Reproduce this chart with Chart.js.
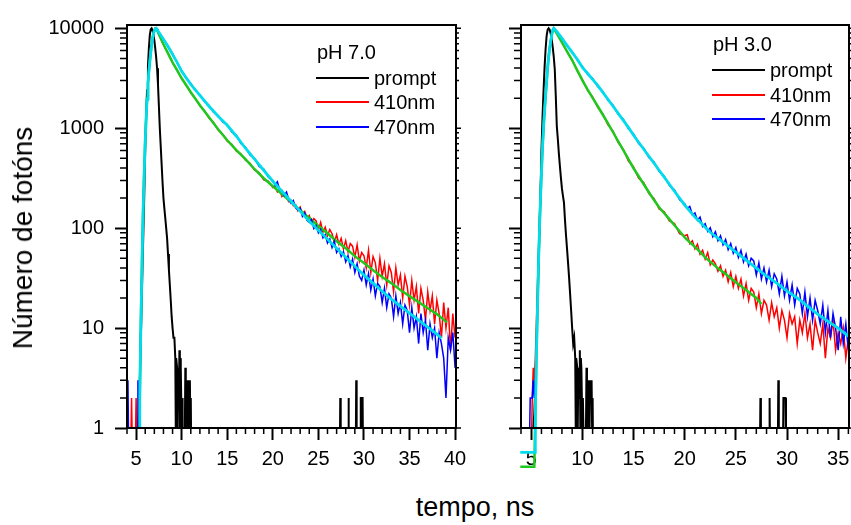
<!DOCTYPE html>
<html>
<head>
<meta charset="utf-8">
<script src="https://cdn.jsdelivr.net/npm/chart.js@4.4.1/dist/chart.umd.min.js"></script>
<style>
  body { margin: 0; background: #fff; overflow: hidden; }
  #wrap { position: relative; width: 851px; height: 525px; overflow: hidden; background: #fff; font-family: Arial, "Liberation Sans", sans-serif; }
  canvas { position: absolute; top: 0; }
  .title { position: absolute; color: #000; white-space: nowrap; }
  #ytitle { left: 23px; top: 238px; font-size: 28px; transform: translate(-50%, -50%) rotate(-90deg); }
  #xtitle { left: 475px; top: 507px; font-size: 27px; transform: translate(-50%, -50%); }
</style>
</head>
<body>
<div id="wrap">
  <canvas id="ph7" width="480" height="480" style="left:0"></canvas>
  <canvas id="ph3" width="390" height="480" style="left:470px"></canvas>
  <div class="title" id="ytitle">Número de fotóns</div>
  <div class="title" id="xtitle">tempo, ns</div>
</div>
<script>
// ---- pH 7.0 (left panel) ----
const time7 = [4.0,4.1,4.2,4.3,4.4,4.5,4.6,4.7,4.8,4.9,5.0,5.1,5.2,
  5.3,5.4,5.5,5.6,5.7,5.8,5.9,6.0,6.1,6.2,6.3,6.4,6.5,6.6,6.7,6.8,6.9,7.0,7.1,7.2,7.3,7.4,
  7.5,8,8.5,9,9.5,10,10.5,11,11.5,12,12.5,13,13.5,14,14.5,15,15.5,16,16.5,17,17.5,18,18.5,19,19.5,20,
  20.25,20.5,20.75,21,21.25,21.5,21.75,22,22.25,22.5,22.75,23,23.25,23.5,23.75,24,24.25,24.5,24.75,25,
  25.25,25.5,25.75,26,26.25,26.5,26.75,27,27.25,27.5,27.75,28,28.25,28.5,28.75,29,29.25,29.5,29.75,30,
  30.25,30.5,30.75,31,31.25,31.5,31.75,32,32.25,32.5,32.75,33,33.25,33.5,33.75,34,34.25,34.5,34.75,35,
  35.25,35.5,35.75,36,36.25,36.5,36.75,37,37.25,37.5,37.75,38,38.25,38.5,38.75,39,39.25,39.5,39.75,40];
const red7 = [0,0,0,0,0,2,0,0,0,0,2,0,0,
  0,2,9,28,80,200,400,760,1260,2000,2820,3720,4680,5750,6900,7940,8900,9550,10000,9800,9400,9050,
  8600,6850,5700,4500,3850,3100,2720,2260,1990,1680,1500,1260,1140,960,870,740,690,590,555,480,445,380,360,305,295,255,
  262,231,244,208,221,203,184,190,168,172,149,163,139,147,126,134,112,125,118,96,
  114,91,102,84,97,88,72,86,69,79,62,75,58,70,66,51,68,47,57,53,
  40,60,36,52,45,30,50,33,44,27,42,36,23,40,27,34,20,33,26,17,
  30,19,26,14,25,19,12,23,15,21,11,19,14,8,18,10,16,6,14,8];
const blue7 = [0,3,0,0,0,0,0,0,0,0,0,0,3,
  0,2,8,26,76,190,385,740,1230,1950,2760,3650,4600,5650,6800,7850,8800,9450,9850,10000,9850,9500,
  9000,7850,6500,5600,4500,3780,3150,2800,2380,2170,1850,1690,1450,1340,1160,1090,920,850,705,645,540,500,415,390,325,300,
  268,291,243,239,212,230,194,178,189,160,152,158,131,142,120,114,122,99,106,90,
  97,80,86,71,78,64,74,57,62,52,58,46,53,41,49,36,44,33,30,38,
  27,35,24,31,21,28,26,18,25,16,22,20,13,21,14,18,11,17,15,9,
  16,10,13,7,14,9,12,6,11,8,10,5,9,7,5,2,8,6,9,4];
const promptTime7 = [4.0,5.1,5.2,5.3,5.4,5.5,5.6,5.7,5.8,5.9,6.0,6.1,6.2,6.3,6.4,6.5,6.6,6.7,6.8,6.9,
  7.0,7.1,7.2,7.3,7.4,7.5,7.6,7.7,7.8,7.9,8.0,8.1,8.2,8.3,8.4,8.5,8.6,8.7,8.8,8.9,9.0,9.1,9.2,9.3,
  9.35,9.4,9.5,9.55,9.6,9.7,9.75,9.8,9.85,9.9,10.0,10.05,10.1,10.35,10.4,10.45,10.5,10.6,10.7,10.75,
  10.8,10.9,10.95,11.0,11.05,27.35,27.4,27.45,28.25,28.3,28.35,29.1,29.15,29.2,29.6,29.65,29.85,29.9,40];
const prompt7 = [0,0,1,1.4,2.8,6.6,16,40,95,224,630,1320,2400,4170,6310,8510,9770,10000,9550,8710,
  7590,6310,5130,3980,2750,1660,1000,661,437,288,200,158,126,100,79,55,38,27,19,13,10,8,8,5,
  1,5,4,1,4,2,6,1,5,4,1,2,1,1,4,2,1,3,1,3,
  2,3,1,2,0,0,2,0,0,2,0,0,3,0,0,2,2,0,0];
const fitTime410_7 = [5.35,5.4,5.5,5.6,5.7,5.8,5.9,6.0,6.1,6.2,6.3,6.4,6.5,6.6,6.7,6.8,6.9,7.0,7.1,7.2,
  7.5,8,8.5,9,9.5,10,11,12,13,14,15,16,17,18,19,20,21,22,23,24,25,26,27,28,29,30,31,32,33,34,35,36,37,38,39.1];
const fit410_7 = [1,2,9,28,80,200,400,760,1260,2000,2820,3720,4680,5750,6900,7940,8900,9550,10000,9950,
  8710,6918,5623,4571,3802,3162,2291,1698,1288,977,759,603,490,389,316,263,219,182,151,126,105,89,74,63,52.5,
  44.7,38,32.4,28.2,24,20.9,18.2,15.8,13.8,11.4];
const fitTime470_7 = [5.35,5.4,5.5,5.6,5.7,5.8,5.9,6.0,6.1,6.2,6.3,6.4,6.5,6.6,6.7,6.8,6.9,7.0,7.1,7.2,
  7.5,8,8.5,9,9.5,10,11,12,13,14,15,16,17,18,19,20,21,22,23,24,25,26,27,28,29,30,31,32,33,34,35,36,37,38,38.5];
const fit470_7 = [1,2,8,26,76,190,385,740,1230,1950,2760,3650,4600,5650,6800,7850,8800,9450,9850,10000,
  9120,7762,6607,5495,4571,3715,2754,2138,1660,1318,1072,832,631,490,380,295,234,186,148,117,95.5,77.6,63,51.3,
  41.7,33.9,28.2,23.4,19.5,16.6,14.1,12,10.2,8.7,7.9];

// ---- pH 3.0 (right panel) ----
const time3 = [4.0,4.1,4.2,4.3,4.4,4.5,4.6,4.7,4.8,4.9,5.0,5.1,5.2,
  5.3,5.4,5.5,5.6,5.7,5.8,5.9,6.0,6.1,6.2,6.3,6.4,6.5,6.6,6.7,6.8,6.9,7.0,7.1,7.2,7.3,7.4,
  7.5,8,8.5,9,9.5,10,10.5,11,11.5,12,12.5,13,13.5,14,14.5,15,15.5,16,16.5,17,17.5,18,18.5,19,19.5,20,
  20.25,20.5,20.75,21,21.25,21.5,21.75,22,22.25,22.5,22.75,23,23.25,23.5,23.75,24,24.25,24.5,24.75,25,
  25.25,25.5,25.75,26,26.25,26.5,26.75,27,27.25,27.5,27.75,28,28.25,28.5,28.75,29,29.25,29.5,29.75,30,
  30.25,30.5,30.75,31,31.25,31.5,31.75,32,32.25,32.5,32.75,33,33.25,33.5,33.75,34,34.25,34.5,34.75,35,
  35.25,35.5,35.75,36];
const red3 = [0,0,0,0,0,0,0,0,0,0,0,2,4,
  3,5,11,25,55,120,240,440,760,1180,1700,2350,3150,4250,5400,6600,7700,8700,9600,10000,9700,9300,
  8850,7300,5800,4850,3750,3080,2400,2060,1620,1390,1080,935,720,615,470,410,315,285,222,198,156,146,118,111,88,84,
  86,70,75,62,69,55,60,49,57,43,48,44,37,42,33,38,29,36,26,33,
  25,31,21,28,19,25,23,16,22,14,19,17,12,18,13,16,10,15,12,8,
  14,11,13,7,12,9,14,8,11,6,12,9,7,11,5,10,8,12,6,9,
  7,10,5,8];
const blue3 = [0,0,0,0,0,0,0,0,0,2,2,2,3,
  2,3,6,15,40,92,188,350,620,990,1470,2080,2870,3950,5100,6300,7400,8500,9500,10000,9850,9550,
  9200,8050,6650,5850,4800,4150,3480,3150,2620,2340,1900,1700,1380,1230,990,875,705,630,510,460,370,332,268,241,193,176,
  158,165,136,142,120,129,104,111,93,101,82,92,75,84,68,77,61,70,56,64,
  51,60,46,55,42,50,47,34,45,31,40,29,38,26,35,31,22,33,21,29,
  19,27,17,25,22,14,23,13,20,12,19,15,11,17,9,15,8,14,10,6,
  13,7,11,6];
const promptTime3 = promptTime7;
const prompt3 = [0,0,1,1.4,2.6,6,15,37,90,210,600,1260,2300,4000,6100,8300,9650,10000,9700,8900,
  7800,6500,5200,3900,2100,1050,780,560,420,320,250,210,180,120,85,62,45,32,22,15,10,7,8,5,
  1,5,4,1,4,2,6,1,5,4,1,2,1,1,4,2,1,3,1,3,
  2,3,1,2,0,0,2,0,0,2,0,0,3,0,0,2,2,0,0];
const fitTime410_3 = [3.93,5.3,5.4,5.5,5.6,5.7,5.8,5.9,6.0,6.1,6.2,6.3,6.4,6.5,6.6,6.7,6.8,6.9,7.0,7.1,7.2,
  7.5,8,8.5,9,9.5,10,10.5,11,11.5,12,12.5,13,13.5,14,14.5,15,15.5,16,16.5,17,17.5,18,18.5,19,19.5,20,
  20.5,21,21.5,22,22.5,23,23.5,24,24.5,25,25.5,26,26.5,27,27.5];
const fit410_3 = [0.41,0.41,1.3,5,14,40,93,190,355,630,1000,1480,2090,2880,3980,5130,6310,7410,8510,9550,10000,
  8910,7240,5890,4790,3800,3020,2455,2018,1660,1365,1122,912,741,603,490,398,331,275,229,191,162,141,123,107,93,81,
  72,65,58,51,46,41.7,38,34.7,31.6,28.8,26.3,24,21.9,20,17.4];
const fitTime470_3 = [3.93,5.38,5.4,5.5,5.6,5.7,5.8,5.9,6.0,6.1,6.2,6.3,6.4,6.5,6.6,6.7,6.8,6.9,7.0,7.1,7.2,
  7.5,8,8.5,9,9.5,10,10.5,11,11.5,12,12.5,13,13.5,14,14.5,15,15.5,16,16.5,17,17.5,18,18.5,19,19.5,20,
  20.5,21,21.5,22,22.5,23,23.5,24,24.5,25,26,27,28,29,30,31,32,33,34,35,36];
const fit470_3 = [0.57,0.57,1.3,5,14,40,93,190,355,630,1000,1480,2090,2880,3980,5130,6310,7410,8510,9550,10000,
  9330,7940,6760,5750,4900,4070,3550,3090,2690,2290,1950,1660,1410,1200,1020,851,724,617,525,447,380,324,275,234,200,170,
  148,129,115,102,91,83,76,69,63,57.5,47.9,39.8,33.1,28.2,23.4,20,16.6,13.8,11.7,10,8.3];

const yTicks = [1, 10, 100, 1000, 10000];
const xTicks7 = [5, 10, 15, 20, 25, 30, 35, 40];
const xTicks3 = [5, 10, 15, 20, 25, 30, 35];
const legendLabels = ['prompt', '410nm', '470nm'];

const FONT = 'Arial, "Liberation Sans", sans-serif';
Chart.defaults.font.family = FONT;
Chart.defaults.color = '#000';

// zero counts cannot sit on a log axis: put them just under the bottom edge
function xy(xs, ys) {
  return xs.map((x, i) => ({ x: x, y: ys[i] === 0 ? 0.5 : ys[i] }));
}

// minor ticks, mirrored ticks and the box round the plot area
const frameTicks = {
  id: 'frameTicks',
  afterDraw(chart) {
    const ctx = chart.ctx, a = chart.chartArea;
    const x = chart.scales.x, y = chart.scales.y;
    ctx.save();
    ctx.strokeStyle = '#000';
    ctx.lineWidth = 1.5;
    ctx.beginPath();
    for (let v = 4; v <= x.max; v++) {
      if (v % 5 === 0) continue;
      const px = x.getPixelForValue(v);
      ctx.moveTo(px, a.bottom);
      ctx.lineTo(px, a.bottom + 6);
    }
    for (let d = 1; d < 10000; d *= 10) {
      for (let m = 2; m <= 9; m++) {
        const py = y.getPixelForValue(d * m);
        ctx.moveTo(a.left - 7, py);
        ctx.lineTo(a.left, py);
        ctx.moveTo(a.right, py);
        ctx.lineTo(a.right + 3, py);
      }
    }
    yTicks.forEach(v => {
      const py = y.getPixelForValue(v);
      ctx.moveTo(a.right, py);
      ctx.lineTo(a.right + 5, py);
    });
    ctx.stroke();
    ctx.lineWidth = 2;
    ctx.beginPath();
    ctx.rect(a.left, a.top, a.right - a.left, a.bottom - a.top);
    ctx.stroke();
    ctx.restore();
  }
};

// legend in the upper right of each panel
const panelLegend = {
  id: 'panelLegend',
  afterDraw(chart, args, opts) {
    const ctx = chart.ctx, a = chart.chartArea;
    const x0 = a.left + opts.dx;
    ctx.save();
    ctx.font = '20px ' + FONT;
    ctx.fillStyle = '#000';
    ctx.textBaseline = 'alphabetic';
    ctx.fillText(opts.title, x0 + 1, opts.titleY + 6);
    legendLabels.forEach((lab, i) => {
      const ds = chart.data.datasets.find(d => d.label === lab);
      const yy = opts.rowY[i];
      ctx.strokeStyle = ds.borderColor;
      ctx.lineWidth = 2;
      ctx.beginPath();
      ctx.moveTo(x0, yy);
      ctx.lineTo(x0 + 53, yy);
      ctx.stroke();
      ctx.fillText(lab, x0 + 58, yy + 7);
    });
    ctx.restore();
  }
};

function makePanel(id, cfg) {
  const datasets = [
    { label: '470nm fit', data: xy(cfg.fitT470, cfg.fit470), borderColor: '#00dcec', borderWidth: 2.8 },
    { label: '470nm', data: xy(cfg.t, cfg.blue), borderColor: '#0000ff', borderWidth: 1.5 },
    { label: '410nm fit', data: xy(cfg.fitT410, cfg.fit410), borderColor: '#1ec81e', borderWidth: 2.5 },
    { label: '410nm', data: xy(cfg.t, cfg.red), borderColor: '#ff0000', borderWidth: 1.5 },
    { label: 'prompt', data: xy(cfg.pt, cfg.prompt), borderColor: '#000000', borderWidth: 2 }
  ];
  if (cfg.fitsBelow) {
    // the pH 3.0 fits start below the axis and show under it
    datasets[0].clip = { left: 3, top: 0, right: 0, bottom: 45 };
    datasets[2].clip = { left: 3, top: 0, right: 0, bottom: 45 };
  }

  return new Chart(document.getElementById(id), {
    type: 'line',
    data: { datasets: datasets },
    options: {
      responsive: false,
      animation: false,
      events: [],
      layout: { padding: cfg.padding },
      elements: { point: { radius: 0 }, line: { tension: 0 } },
      plugins: {
        legend: { display: false },
        tooltip: { enabled: false },
        panelLegend: cfg.legend
      },
      scales: {
        x: {
          type: 'linear',
          min: 4,
          max: cfg.xMax,
          afterBuildTicks: s => { s.ticks = cfg.xTicks.map(v => ({ value: v })); },
          afterFit: s => { s.height = 52; },
          grid: { drawOnChartArea: false, tickLength: 12, tickWidth: 2, tickColor: '#000' },
          border: { display: true, width: 2, color: '#000' },
          ticks: { font: { size: 20 }, color: '#000', padding: 7, maxRotation: 0, autoSkip: false, callback: v => String(v) }
        },
        y: {
          type: 'logarithmic',
          min: 1,
          max: 10800,
          afterBuildTicks: s => { s.ticks = yTicks.map(v => ({ value: v })); },
          afterFit: s => { s.width = cfg.yWidth; },
          grid: { drawOnChartArea: false, tickLength: 12, tickWidth: 2, tickColor: '#000' },
          border: { display: true, width: 2, color: '#000' },
          ticks: { font: { size: 20 }, color: '#000', padding: 11, autoSkip: false, callback: v => cfg.yLabels ? String(v) : '' }
        }
      }
    },
    plugins: [frameTicks, panelLegend]
  });
}

makePanel('ph7', {
  t: time7, red: red7, blue: blue7, pt: promptTime7, prompt: prompt7,
  fitT410: fitTime410_7, fit410: fit410_7, fitT470: fitTime470_7, fit470: fit470_7,
  xMax: 40.1, xTicks: xTicks7, yWidth: 127, yLabels: true,
  padding: { left: 0, top: 25, right: 24, bottom: 0 },
  legend: { title: 'pH 7.0', dx: 189, titleY: 53, rowY: [78, 102, 127] }
});

makePanel('ph3', {
  t: time3, red: red3, blue: blue3, pt: promptTime3, prompt: prompt3,
  fitT410: fitTime410_3, fit410: fit410_3, fitT470: fitTime470_3, fit470: fit470_3,
  xMax: 36.06, xTicks: xTicks3, yWidth: 51, yLabels: false, fitsBelow: true,
  padding: { left: 0, top: 25, right: 11, bottom: 0 },
  legend: { title: 'pH 3.0', dx: 191, titleY: 45, rowY: [70, 95, 119] }
});
</script>
</body>
</html>
